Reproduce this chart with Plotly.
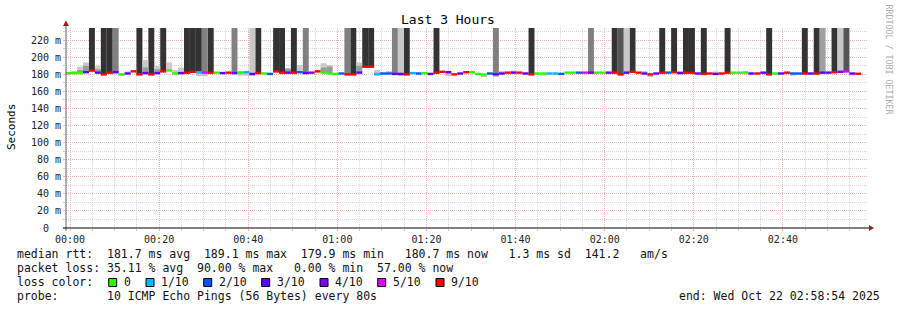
import plotly.graph_objects as go
from datetime import datetime, timedelta

# ---------------- data ----------------
START = datetime(2025, 10, 21, 23, 58, 55)   # start of first 80 s step
STEP_S = 80

median_ms = [
    181.5, 181.5, 181.5, 182.5, 184.5, 182.0, 180.0, 182.0, 182.5, 180.0,
    181.0, 183.5, 180.0, 181.5, 180.0, 181.5, 183.5, 184.5, 181.0, 181.5,
    182.0, 183.0, 182.5, 182.0, 182.0, 182.0, 181.5, 182.0, 181.5, 182.0,
    182.5, 180.5, 181.5, 181.0, 180.5, 183.5, 182.0, 182.0, 182.0, 182.5,
    181.5, 182.0, 183.5, 182.0, 181.0, 180.5, 181.0, 180.0, 180.0, 182.0,
    189.0, 189.1, 180.5, 181.0, 181.0, 180.5, 180.5, 180.0, 181.5, 181.0,
    181.5, 180.5, 182.0, 183.0, 182.5, 180.0, 181.0, 182.5,
    182.5, 180.5, 179.9, 181.0, 180.0, 181.0, 182.0, 182.0, 182.0, 181.0,
    180.0, 181.0, 181.0, 181.0, 181.0, 180.5, 182.0, 182.0, 182.0, 182.0,
    182.0, 182.0, 182.0, 182.0, 182.0, 180.0, 182.0, 183.0, 182.0, 181.0,
    180.0, 181.0, 182.0, 182.0, 182.5, 181.5, 182.0, 182.0, 181.0, 180.5,
    181.0, 180.5, 181.0, 182.0, 182.0, 182.0, 182.0, 181.0, 181.0, 182.0,
    180.0, 181.0, 181.0, 182.0, 181.0, 181.0, 181.0, 181.0, 181.0, 182.0,
    182.0, 182.5, 183.0, 183.5, 181.0, 180.7,
]

loss_pings = [
    0, 0, 0, 3, 9, 3, 9, 9, 3, 0,
    3, 9, 9, 3, 9, 3, 9, 0, 0, 3,
    9, 9, 1, 5, 9, 0, 3, 9, 3, 0,
    1, 3, 9, 0, 2, 9, 9, 3, 9, 2,
    3, 4, 9, 0, 0, 0, 2, 9, 9, 3,
    9, 9, 1, 2, 2, 3, 3, 9, 1, 2,
    0, 3, 9, 9, 3, 9, 3, 9,
    0, 0, 0, 2, 3, 3, 9, 3, 9, 3,
    9, 0, 0, 1, 1, 2, 0, 0, 2, 5,
    3, 0, 0, 3, 9, 9, 3, 9, 9, 3,
    9, 3, 9, 2, 9, 3, 9, 9, 3, 9,
    9, 3, 9, 9, 0, 0, 0, 3, 9, 3,
    9, 0, 3, 9, 2, 2, 9, 3, 9, 3,
    3, 9, 4, 5, 3, 9,
]

# heavy smoke columns reaching past the top: step -> shade code
tall_smoke = {
    4: 'D', 6: 'D', 7: 'D', 8: 'G', 12: 'D', 14: 'D', 16: 'D', 20: 'D', 21: 'D',
    22: 'D', 23: 'G', 24: 'D', 28: 'G', 31: 'L', 32: 'D', 35: 'D', 36: 'D',
    38: 'D', 40: 'G', 47: 'G', 48: 'D', 50: 'D', 51: 'D', 55: 'G', 56: 'L',
    57: 'D', 62: 'D', 72: 'G', 78: 'D', 88: 'G', 92: 'D', 93: 'M', 94: 'L',
    95: 'D', 100: 'D', 102: 'D', 104: 'D', 105: 'D', 107: 'D', 111: 'D',
    118: 'D', 124: 'D', 126: 'D', 127: 'A', 129: 'D', 130: 'L', 131: 'M',
}
# light smoke above the median: step -> upper ms
smoke_hi = {
    0: 183, 1: 184, 2: 189, 3: 194, 5: 190, 10: 183.5, 13: 197, 15: 190,
    17: 194, 18: 185, 19: 188, 29: 183, 37: 187.5, 39: 191, 43: 193, 44: 191,
    49: 194, 52: 185, 54: 184, 73: 184, 75: 184.5, 97: 184, 103: 184,
    109: 183.5, 114: 183.5,
}
# denser smoke above the median: step -> upper ms
smoke_mid = {2: 185, 3: 190, 5: 186, 13: 188, 15: 186, 37: 186.5, 43: 188,
             44: 189, 49: 190}
# light smoke below the median: step -> lower ms
smoke_lo = {0: 179, 9: 178.5, 22: 178, 23: 178, 29: 178.5, 30: 178.5, 31: 178,
            52: 178.5, 56: 178, 64: 178, 70: 178, 72: 178, 80: 178.5, 98: 178,
            122: 178.5, 132: 178.5}

loss_labels = ["0", "1/10", "2/10", "3/10", "4/10", "5/10", "9/10"]
loss_levels = [0, 1, 2, 3, 4, 5, 9]
loss_colors = ["#26ff00", "#00b8ff", "#0059ff", "#5e00ff", "#7e00ff", "#dd00ff", "#ff0000"]
shade_colors = {'D': '#333333', 'G': '#808080', 'L': '#c8c8c8', 'M': '#555555', 'A': '#a0a0a0'}

y_ticks = [0, 20, 40, 60, 80, 100, 120, 140, 160, 180, 200, 220]
y_ticktext = ["0\u00a0\u00a0"] + [f"{v}\u00a0m" for v in y_ticks[1:]]

stats_rtt = "median rtt:  181.7 ms avg  189.1 ms max  179.9 ms min   180.7 ms now   1.3 ms sd  141.2   am/s"
stats_loss = "packet loss: 35.11 % avg  90.00 % max   0.00 % min  57.00 % now"
probe_txt = "probe:       10 ICMP Echo Pings (56 Bytes) every 80s"
end_txt = "end: Wed Oct 22 02:58:54 2025"

# ---------------- figure ----------------
W, H = 897, 310
ML, MR, MT, MB = 66, 29, 28, 82
PW, PH = W - ML - MR, H - MT - MB
YMAX = 234.3
FONT = "DejaVu Sans Mono"


def px(x):
    return (x - ML) / PW


def py(y):
    return (H - MB - y) / PH


n = len(median_ms)
times = [START + timedelta(seconds=STEP_S * (i + 0.5)) for i in range(n)]
BW = STEP_S * 1000
cmap = dict(zip(loss_levels, loss_colors))

fig = go.Figure()

# tall smoke columns
for code, col in shade_colors.items():
    idx = [i for i, c in tall_smoke.items() if c == code]
    if not idx:
        continue
    fig.add_trace(go.Bar(
        x=[times[i] for i in idx], base=[median_ms[i] - 1 for i in idx],
        y=[300 - median_ms[i] for i in idx], width=BW, marker_color=col,
        marker_line_width=0, hoverinfo="skip", showlegend=False))

# light smoke above
idx = sorted(smoke_hi)
fig.add_trace(go.Bar(
    x=[times[i] for i in idx], base=[median_ms[i] for i in idx],
    y=[smoke_hi[i] - median_ms[i] for i in idx], width=BW, marker_color="#cacaca",
    marker_line_width=0, hoverinfo="skip", showlegend=False))
idx = sorted(smoke_mid)
fig.add_trace(go.Bar(
    x=[times[i] for i in idx], base=[median_ms[i] for i in idx],
    y=[smoke_mid[i] - median_ms[i] for i in idx], width=BW, marker_color="#9a9a9a",
    marker_line_width=0, hoverinfo="skip", showlegend=False))
idx = sorted(smoke_lo)
fig.add_trace(go.Bar(
    x=[times[i] for i in idx], base=[smoke_lo[i] for i in idx],
    y=[median_ms[i] - smoke_lo[i] for i in idx], width=BW, marker_color="#c4c4c4",
    marker_line_width=0, hoverinfo="skip", showlegend=False))

# median line segments coloured by loss
LT = 2.8
fig.add_trace(go.Bar(
    x=times, base=[m - LT / 2 for m in median_ms], y=[LT] * n, width=BW,
    marker_color=[cmap[l] for l in loss_pings], marker_line_width=0,
    hoverinfo="skip", showlegend=False))

grid_dash = "1px,1px"
MAJ = "#f6b0b0"
MIN = "#d6d6d6"
fig.update_layout(
    width=W, height=H, margin=dict(l=ML, r=MR, t=MT, b=MB),
    paper_bgcolor="white", plot_bgcolor="white", barmode="overlay",
    font=dict(family=FONT, size=10, color="#222222"),
    showlegend=False,
)
fig.update_xaxes(
    type="date", range=["2025-10-21 23:59:06", "2025-10-22 02:59:06"],
    tickformat="%H:%M", dtick=20 * 60 * 1000, tick0="2025-10-22 00:00:00",
    showgrid=True, gridcolor=MAJ, griddash=grid_dash, gridwidth=1,
    ticks="outside", ticklen=2, tickcolor=MAJ,
    minor=dict(dtick=5 * 60 * 1000, showgrid=True, gridcolor=MIN,
               griddash=grid_dash, ticks="outside", ticklen=2, tickcolor="#c8c8c8"),
    showline=False, zeroline=False, fixedrange=True,
    tickfont=dict(family=FONT, size=10, color="#222222"),
)
fig.update_yaxes(
    range=[0, YMAX], tickvals=y_ticks, ticktext=y_ticktext,
    showgrid=True, gridcolor=MAJ, griddash=grid_dash, gridwidth=1,
    ticks="outside", ticklen=2, tickcolor=MAJ,
    minor=dict(dtick=10, showgrid=True, gridcolor=MIN, griddash=grid_dash,
               ticks="outside", ticklen=2, tickcolor="#c8c8c8"),
    showline=False, zeroline=False, fixedrange=True,
    tickfont=dict(family=FONT, size=10, color="#222222"),
)

shapes = []
# axes lines
shapes.append(dict(type="line", xref="paper", yref="paper", x0=px(66), x1=px(66),
                   y0=py(231), y1=py(23), line=dict(color="#606060", width=1)))
shapes.append(dict(type="line", xref="paper", yref="paper", x0=px(63), x1=px(869),
                   y0=py(228), y1=py(228), line=dict(color="#000000", width=1)))
# arrows
shapes.append(dict(type="path", xref="paper", yref="paper",
                   path=f"M {px(63)},{py(26)} L {px(69)},{py(26)} L {px(66)},{py(20.5)} Z",
                   fillcolor="#9c1c1c", line=dict(width=0)))
shapes.append(dict(type="path", xref="paper", yref="paper",
                   path=f"M {px(869)},{py(225)} L {px(869)},{py(231)} L {px(874)},{py(228)} Z",
                   fillcolor="#9c1c1c", line=dict(width=0)))

ann = []


def text(x, y, s, size=11.5, xanchor="left", color="#111111", angle=0):
    ann.append(dict(x=px(x), y=py(y), xref="paper", yref="paper", text=s.replace(" ", "\u00a0"),
                    showarrow=False, xanchor=xanchor, yanchor="middle", textangle=angle,
                    font=dict(family=FONT, size=size, color=color), borderpad=0))


text(448, 20, "Last 3 Hours", size=13, xanchor="center", color="#000000")
text(11, 127, "Seconds", size=11, xanchor="center", color="#000000", angle=-90)
text(888.5, 59, "RRDTOOL / TOBI OETIKER", size=8.3, xanchor="center", color="#ababab", angle=90)

text(16, 254, stats_rtt)
text(16, 268, stats_loss)
text(16, 282, "loss color:")
text(16, 296, probe_txt)
text(881, 296, end_txt, xanchor="right")

box_left = [108.7, 146, 203.7, 261.7, 320, 377.7, 436]
for bx, lab, col in zip(box_left, loss_labels, loss_colors):
    shapes.append(dict(type="rect", xref="paper", yref="paper", x0=px(bx), x1=px(bx + 8),
                       y0=py(286.5), y1=py(278.5), fillcolor=col,
                       line=dict(color="#000000", width=1)))
    text(bx + 14.3, 282, lab)

fig.update_layout(shapes=shapes, annotations=ann)
fig.write_html("out.html")
